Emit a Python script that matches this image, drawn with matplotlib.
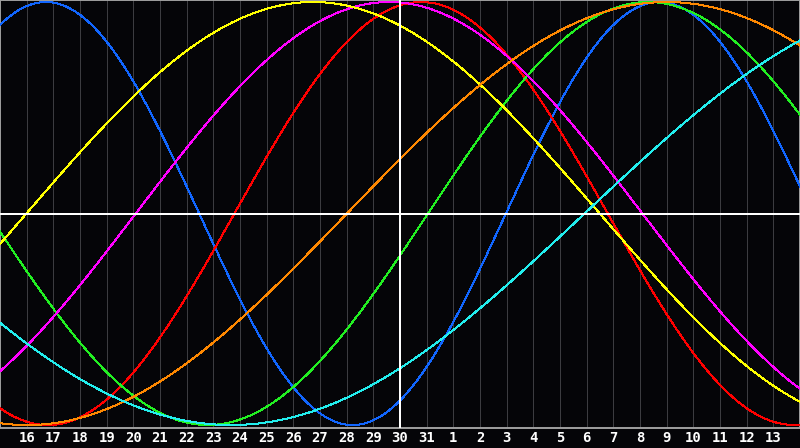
import numpy as np
from matplotlib import pyplot as plt

# biorhythm chart, one column per day, today = 30th
day_labels = [str(d) for d in range(16, 32)] + [str(d) for d in range(1, 14)]
today = "30"

# cycle lengths (days) and the day position where each curve peaks
periods = [23, 28, 33, 38, 43, 48, 53]
peak_day = [1.72, 15.79, 24.3, 14.59, 11.74, 25.01, 35.17]
colors = ["#1166ff", "#ff0000", "#22f022", "#ff00ff", "#ffff00", "#ff8800", "#22eeee"]

bg = "#050508"
fig = plt.figure(figsize=(8, 4.48), dpi=100, facecolor=bg)
ax = fig.add_axes([0, 1 - 428 / 448, 1, 428 / 448])
ax.set_facecolor(bg)

n = len(day_labels)
xpos = np.arange(1, n + 1)
ax.set_xlim(0, n + 1)
ax.set_ylim(-1.014, 1.0095)

for x in xpos:
    ax.axvline(x, color="#3c3c40", lw=0.72, antialiased=False, zorder=1)

x = np.linspace(0, n + 1, 1600)
for P, pk, c in zip(periods, peak_day, colors):
    y = np.cos(2 * np.pi * (x - pk) / P)
    ax.plot(x, y, color=c, lw=0.72, antialiased=False, zorder=3)

ax.axhline(0, color="white", lw=1.44, antialiased=False, zorder=4)
ax.axvline(xpos[day_labels.index(today)], color="white", lw=1.44,
           antialiased=False, zorder=4)

ax.set_xticks(xpos)
ax.set_xticklabels(day_labels, color="white", fontsize=10, fontweight="bold",
                   family="DejaVu Sans Mono")
ax.tick_params(axis="x", length=0, pad=2)
ax.set_yticks([])
for s in ax.spines.values():
    s.set_color("#a0a0a0")
    s.set_linewidth(1.4)

fig.savefig("out.png", dpi=100, facecolor=bg)
